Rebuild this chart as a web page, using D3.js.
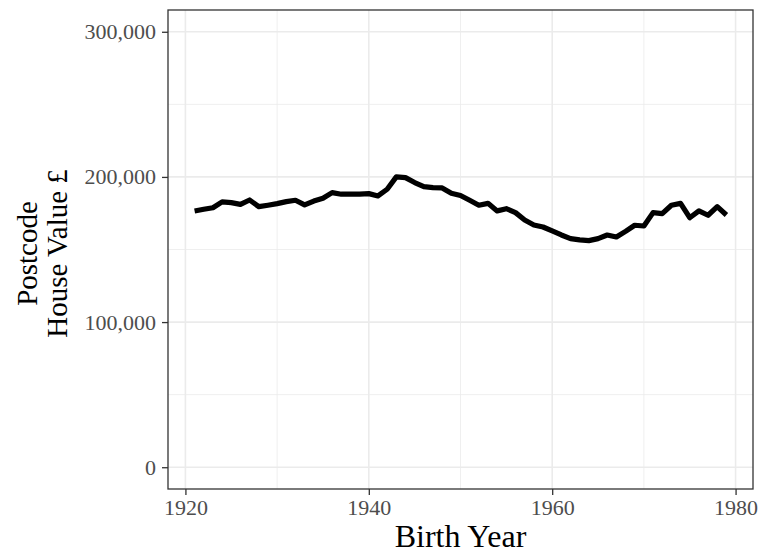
<!DOCTYPE html>
<html>
<head>
<meta charset="utf-8">
<script src="https://cdn.jsdelivr.net/npm/d3@7"></script>
<style>
  body { margin: 0; background: #fff; }
  svg { display: block; font-family: "Liberation Serif", "DejaVu Serif", serif; }
</style>
</head>
<body>
<svg id="chart" width="760" height="557"></svg>
<script>
// birth years and mean postcode house value (GBP)
const years = d3.range(1921, 1980);
const values = [
  176500, 177700, 178800, 182800, 182300, 181100, 184100, 179500, 180500, 181600,
  183000, 183900, 180700, 183400, 185300, 189200, 188100, 188100, 188100, 188500,
  186900, 191500, 200000, 199500, 196100, 193300, 192600, 192400, 188700, 187200,
  183900, 180500, 181800, 176600, 178100, 175400, 170300, 166900, 165500, 162800,
  160000, 157500, 156600, 156100, 157500, 160000, 158600, 162500, 166700, 166200,
  175400, 174700, 180500, 181800, 171900, 176600, 173600, 179500, 173800
];
const xTicks = [1920, 1940, 1960, 1980];
const xMinor = [1930, 1950, 1970];
const yTicks = [0, 100000, 200000, 300000];
const yMinor = [50000, 150000, 250000];

const data = years.map((y, i) => ({ year: y, value: values[i] }));

const svg = d3.select("#chart");
const margin = { top: 10, right: 7, bottom: 68, left: 168 };
const width = 760 - margin.left - margin.right;
const height = 557 - margin.top - margin.bottom;

const g = svg.append("g").attr("transform", `translate(${margin.left},${margin.top})`);

// ggplot style 5% expansion
const xr = d3.extent(years), xpad = (xr[1] - xr[0]) * 0.05;
const x = d3.scaleLinear().domain([xr[0] - xpad, xr[1] + xpad]).range([0, width]);
const y = d3.scaleLinear().domain([-15000, 315000]).range([height, 0]);

// grid
g.selectAll(".minor-x").data(xMinor).enter().append("line")
  .attr("x1", d => x(d)).attr("x2", d => x(d)).attr("y1", 0).attr("y2", height)
  .attr("stroke", "#ebebeb").attr("stroke-width", 0.8);
g.selectAll(".minor-y").data(yMinor).enter().append("line")
  .attr("y1", d => y(d)).attr("y2", d => y(d)).attr("x1", 0).attr("x2", width)
  .attr("stroke", "#ebebeb").attr("stroke-width", 0.8);
g.selectAll(".major-x").data(xTicks).enter().append("line")
  .attr("x1", d => x(d)).attr("x2", d => x(d)).attr("y1", 0).attr("y2", height)
  .attr("stroke", "#ebebeb").attr("stroke-width", 1.6);
g.selectAll(".major-y").data(yTicks).enter().append("line")
  .attr("y1", d => y(d)).attr("y2", d => y(d)).attr("x1", 0).attr("x2", width)
  .attr("stroke", "#ebebeb").attr("stroke-width", 1.6);

// line
const line = d3.line().x(d => x(d.year)).y(d => y(d.value));
g.append("path").datum(data)
  .attr("fill", "none").attr("stroke", "#000").attr("stroke-width", 5.2)
  .attr("stroke-linejoin", "round").attr("d", line);

// panel border
g.append("rect").attr("width", width).attr("height", height)
  .attr("fill", "none").attr("stroke", "#333").attr("stroke-width", 1.3);

// axes
const xAxis = d3.axisBottom(x).tickValues(xTicks).tickFormat(d3.format("d")).tickSize(6).tickPadding(4);
const yAxis = d3.axisLeft(y).tickValues(yTicks).tickFormat(d3.format(",")).tickSize(6).tickPadding(6);

const xg = g.append("g").attr("transform", `translate(0,${height})`).call(xAxis);
const yg = g.append("g").call(yAxis);
[xg, yg].forEach(a => {
  a.select(".domain").remove();
  a.selectAll(".tick line").attr("stroke", "#333").attr("stroke-width", 1.3);
  a.selectAll(".tick text").attr("fill", "#4d4d4d")
    .style("font-family", "'Liberation Serif', serif").style("font-size", "22px");
});

// titles
svg.append("text")
  .attr("x", margin.left + width / 2).attr("y", 547)
  .attr("text-anchor", "middle").attr("font-size", 32).attr("fill", "#000")
  .text("Birth Year");

const yt = svg.append("text")
  .attr("transform", `translate(0,${margin.top + height / 2 + 4}) rotate(-90)`)
  .attr("text-anchor", "middle").attr("font-size", 29).attr("fill", "#000");
yt.append("tspan").attr("x", 0).attr("y", 37).text("Postcode");
yt.append("tspan").attr("x", 0).attr("y", 67).text("House Value £");
</script>
</body>
</html>
